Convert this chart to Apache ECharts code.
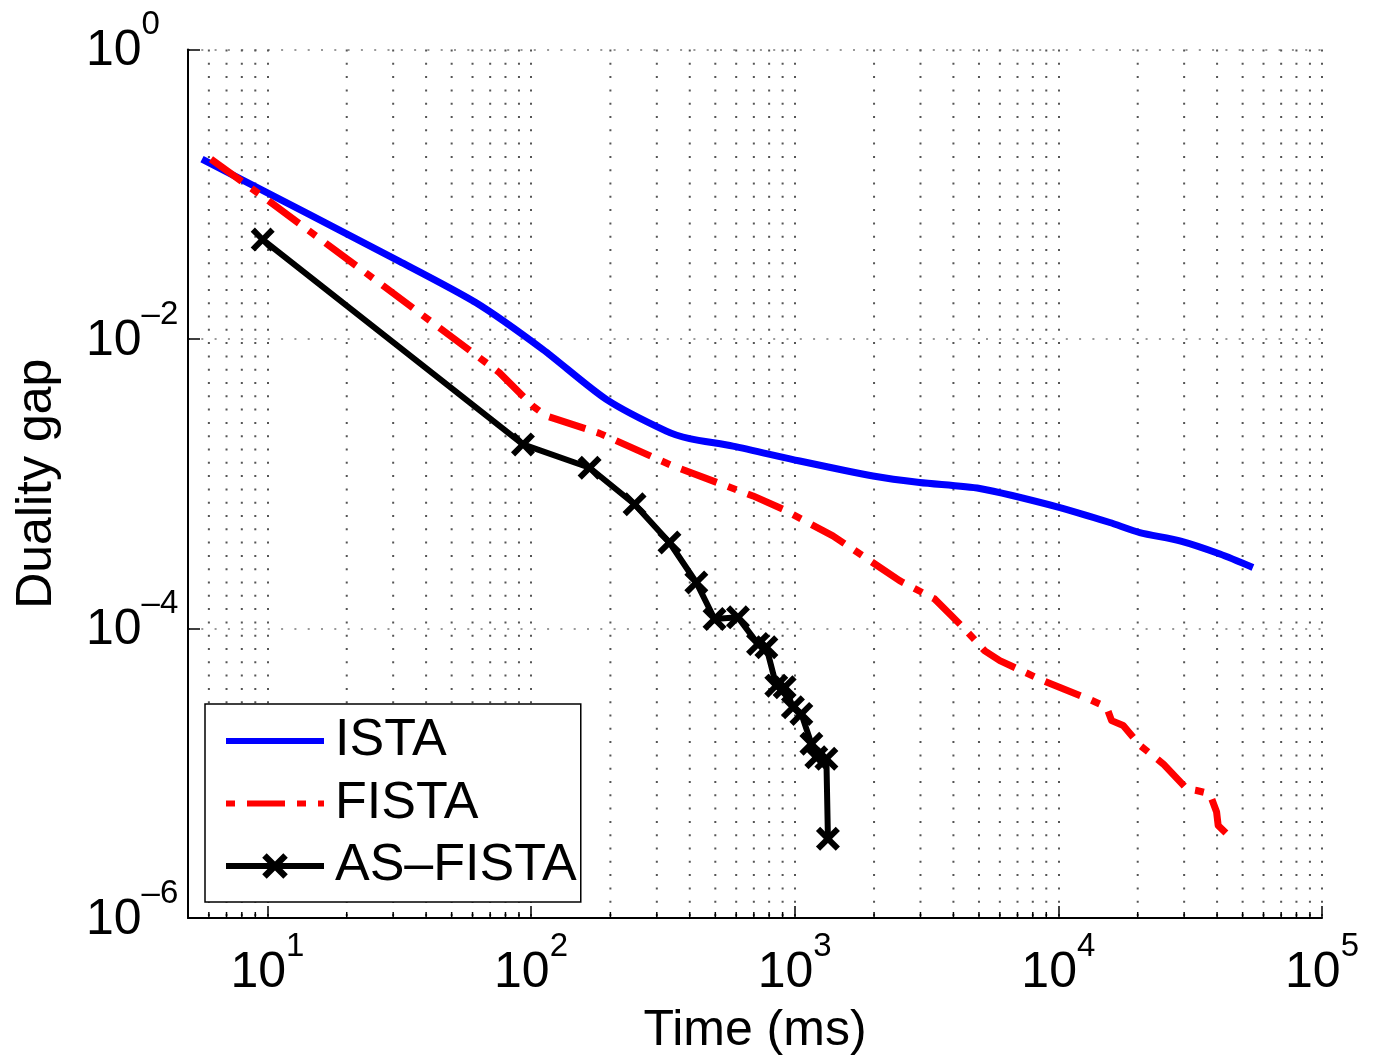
<!DOCTYPE html>
<html>
<head>
<meta charset="utf-8">
<style>
html,body{margin:0;padding:0;background:#fff;}
#chart{width:1378px;height:1061px;}
</style>
<script src="https://cdn.jsdelivr.net/npm/echarts@6/dist/echarts.min.js"></script>
</head>
<body>
<div id="chart"></div>
<script>
// ---- data ----
const seriesNames = ['ISTA', 'FISTA', 'AS\u2013FISTA'];

const istaTime = [5.65, 31.7, 61.9, 110.9, 193, 326, 399.5, 583, 1045, 1982, 2978, 5035, 10140, 15670, 20370, 28900, 41000, 54700];
const istaGap  = [0.175, 0.0344, 0.0178, 0.00847, 0.00383, 0.00231, 0.00205, 0.00182, 0.001436, 0.001132, 0.00102, 0.000927, 0.000685, 0.00054, 0.00046, 0.000403, 0.000327, 0.000264];

const fistaTime = [6.11, 10.18, 26.6, 75.9, 101.6, 114.2, 182, 345, 695, 903, 1396, 1663, 2500, 3396, 4415, 5260, 5998, 8750, 12970, 15240, 15920, 17620, 20380, 24990, 30660, 33440, 37550, 39830, 40380, 43460];
const fistaGap  = [0.175, 0.0892, 0.0244, 0.00585, 0.00344, 0.00294, 0.00223, 0.001327, 0.000824, 0.000667, 0.000436, 0.000353, 0.000214, 0.00016, 9.93e-5, 7.0e-5, 6.0e-5, 4.36e-5, 3.27e-5, 2.86e-5, 2.31e-5, 2.14e-5, 1.56e-5, 1.16e-5, 7.82e-6, 7.6e-6, 7.22e-6, 5.4e-6, 4.36e-6, 3.83e-6];

const asTime = [9.6, 93.2, 166.8, 247, 335, 423.6, 496.6, 609.5, 726, 781, 851.6, 916, 985, 1060, 1157, 1208, 1319, 1337];
const asGap  = [0.0486, 0.00187, 0.00129, 0.000722, 0.000393, 0.000208, 0.0001163, 0.0001194, 7.82e-5, 7.42e-5, 4.03e-5, 3.93e-5, 2.86e-5, 2.57e-5, 1.6e-5, 1.29e-5, 1.26e-5, 3.53e-6];

// axis ranges / ticks
const xMin = 5, xMax = 1e5;
const yMin = 1e-6, yMax = 1;
const xDecades = [0, 1, 2, 3, 4];          // minor ticks k*10^d
const minorMultipliers = [2, 3, 4, 5, 6, 7, 8, 9];

// ---- build ----
const FONT = '"Liberation Sans", Arial, Helvetica, sans-serif';
function pairs(xs, ys) { return xs.map((x, i) => [x, ys[i]]); }

const xMinorTicks = [];
xDecades.forEach(d => minorMultipliers.forEach(k => {
  const v = k * Math.pow(10, d);
  if (v > xMin && v < xMax) xMinorTicks.push([v, 1e-3]);
}));

function powLabel(v, tag) {
  const e = Math.log10(v);
  const r = Math.round(e);
  if (Math.abs(e - r) > 1e-6) return '';
  const s = (r < 0 ? '\u2013' : '') + Math.abs(r);
  return '{' + tag + 'b|10}{' + tag + 's|' + s + '}';
}

const xSymbol = 'path://M3.5,0 L10,6.5 L16.5,0 L20,3.5 L13.5,10 L20,16.5 L16.5,20 L10,13.5 L3.5,20 L0,16.5 L6.5,10 L0,3.5 Z';
const fistaDash = [38, 12, 9, 12];

const chart = echarts.init(document.getElementById('chart'), null, {renderer: 'canvas'});

const option = {
  backgroundColor: '#fff',
  animation: false,
  grid: {left: 188, right: 56, top: 49.5, bottom: 142, containLabel: false},
  legend: {
    data: [
      {name: seriesNames[0], itemStyle: {color: 'rgba(0,0,0,0)', borderWidth: 0},
       lineStyle: {color: '#0000ff', width: 6}},
      {name: seriesNames[1], itemStyle: {color: 'rgba(0,0,0,0)', borderWidth: 0},
       lineStyle: {color: '#ff0000', width: 6, type: fistaDash, dashOffset: 50, cap: 'butt'}},
      {name: seriesNames[2], lineStyle: {color: '#000', width: 6}}
    ],
    orient: 'vertical',
    left: 205, top: 704,
    itemWidth: 98, itemHeight: 32, itemGap: 10.5,
    padding: [11, 4, 10, 18],
    borderColor: '#000', borderWidth: 1.5, borderRadius: 0,
    backgroundColor: '#fff',
    textStyle: {fontFamily: FONT, fontSize: 52, color: '#000', lineHeight: 52, padding: [0, 0, 0, 6]}
  },
  xAxis: {
    type: 'log', logBase: 10, min: xMin, max: xMax,
    name: 'Time (ms)', nameLocation: 'middle', nameGap: 88,
    nameTextStyle: {fontFamily: FONT, fontSize: 50, color: '#000'},
    axisLine: {show: true, onZero: false, lineStyle: {color: '#000', width: 2}},
    axisTick: {show: true, inside: true, length: 12, lineStyle: {color: '#000', width: 1.5}},
    splitLine: {show: true, lineStyle: {color: '#555', width: 2, type: [2, 11.3]}},
    axisLabel: {
      margin: 12, color: '#000', fontFamily: FONT,
      formatter: v => powLabel(v, 'x'),
      rich: {
        xb: {fontFamily: FONT, fontSize: 50, color: '#000', padding: [18, 0, 0, 0], verticalAlign: 'bottom'},
        xs: {fontFamily: FONT, fontSize: 33, color: '#000', verticalAlign: 'top'}
      }
    }
  },
  yAxis: {
    type: 'log', logBase: 10, min: yMin, max: yMax, interval: 2,
    name: 'Duality gap', nameLocation: 'middle', nameGap: 126, nameRotate: 90,
    nameTextStyle: {fontFamily: FONT, fontSize: 50, color: '#000'},
    axisLine: {show: true, onZero: false, lineStyle: {color: '#000', width: 2}},
    axisTick: {show: true, inside: true, length: 12, lineStyle: {color: '#000', width: 1.5}},
    minorTick: {show: false},
    splitLine: {show: true, lineStyle: {color: '#999', width: 2, type: [2, 11.3]}},
    axisLabel: {
      margin: 102, align: 'left', color: '#000', fontFamily: FONT,
      formatter: v => powLabel(v, 'y'),
      rich: {
        yb: {fontFamily: FONT, fontSize: 50, color: '#000', padding: [18, 0, 14, 0], verticalAlign: 'bottom'},
        ys: {fontFamily: FONT, fontSize: 33, color: '#000', verticalAlign: 'top'}
      }
    }
  },
  series: [
    {
      name: 'minor-grid', type: 'custom', silent: true, z: 1,
      data: xMinorTicks,
      renderItem: function (params, api) {
        const x = api.coord([api.value(0), api.value(1)])[0];
        const cs = params.coordSys;
        const top = cs.y, bottom = cs.y + cs.height;
        return {
          type: 'group',
          children: [
            {type: 'line', shape: {x1: x, y1: top, x2: x, y2: bottom},
             style: {stroke: '#555', lineWidth: 2, lineDash: [2, 11.3]}},
            {type: 'line', shape: {x1: x, y1: bottom, x2: x, y2: bottom - 6},
             style: {stroke: '#000', lineWidth: 1.5}}
          ]
        };
      }
    },
    {
      name: seriesNames[0], type: 'line', data: pairs(istaTime, istaGap),
      symbol: 'none', showSymbol: false, z: 3, smooth: 0.25,
      lineStyle: {color: '#0000ff', width: 7, cap: 'butt', join: 'round'},
      itemStyle: {color: '#0000ff'}
    },
    {
      name: seriesNames[1], type: 'line', data: pairs(fistaTime, fistaGap),
      symbol: 'none', showSymbol: false, z: 4,
      lineStyle: {color: '#ff0000', width: 7, type: fistaDash, cap: 'butt', join: 'round'},
      itemStyle: {color: '#ff0000'}
    },
    {
      name: seriesNames[2], type: 'line', data: pairs(asTime, asGap),
      symbol: xSymbol, symbolSize: 24, showSymbol: true, z: 5,
      lineStyle: {color: '#000', width: 6, join: 'round'},
      itemStyle: {color: '#000'}
    }
  ]
};
chart.setOption(option);
</script>
</body>
</html>
